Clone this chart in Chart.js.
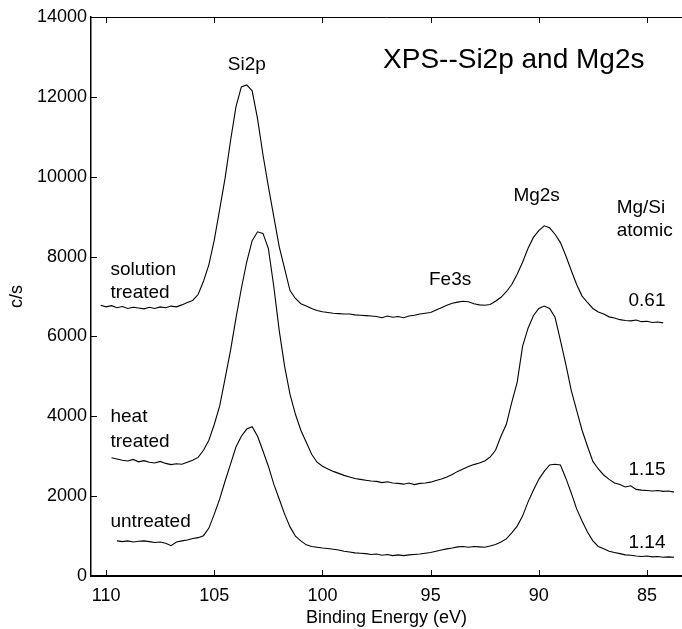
<!DOCTYPE html>
<html>
<head>
<meta charset="utf-8">
<title>XPS--Si2p and Mg2s</title>
<script src="https://cdn.jsdelivr.net/npm/chart.js@4/dist/chart.umd.min.js"></script>
<style>
    html, body { margin: 0; padding: 0; background: #fff; }
    #xpsChart { display: block; }
</style>
</head>
<body>
<canvas id="xpsChart" width="682" height="629"></canvas>
<script>
// binding energy grid (eV), high to low as recorded
const energies = [
    110.25, 110.0, 109.75, 109.5, 109.25, 109.0, 108.75, 108.5, 108.25, 108.0,
    107.75, 107.5, 107.25, 107.0, 106.75, 106.5, 106.25, 106.0, 105.75, 105.5,
    105.25, 105.0, 104.75, 104.5, 104.25, 104.0, 103.75, 103.5, 103.25, 103.0,
    102.75, 102.5, 102.25, 102.0, 101.75, 101.5, 101.25, 101.0, 100.75, 100.5,
    100.25, 100.0, 99.75, 99.5, 99.25, 99.0, 98.75, 98.5, 98.25, 98.0,
    97.75, 97.5, 97.25, 97.0, 96.75, 96.5, 96.25, 96.0, 95.75, 95.5,
    95.25, 95.0, 94.75, 94.5, 94.25, 94.0, 93.75, 93.5, 93.25, 93.0,
    92.75, 92.5, 92.25, 92.0, 91.75, 91.5, 91.25, 91.0, 90.75, 90.5,
    90.25, 90.0, 89.75, 89.5, 89.25, 89.0, 88.75, 88.5, 88.25, 88.0,
    87.75, 87.5, 87.25, 87.0, 86.75, 86.5, 86.25, 86.0, 85.75, 85.5,
    85.25, 85.0, 84.75, 84.5, 84.25, 84.0, 83.75
];

// counts per second
const solutionTreated = [
    6780, 6740, 6770, 6720, 6750, 6700, 6730, 6710, 6690, 6730,
    6700, 6740, 6720, 6760, 6740, 6790, 6850, 6900, 7050, 7380,
    7800, 8420, 9190, 9970, 10900, 11750, 12250, 12300, 12150, 11450,
    10550, 9750, 9000, 8250, 7700, 7150, 6950, 6820, 6760, 6700,
    6650, 6620, 6600, 6580, 6570, 6560, 6560, 6540, 6530, 6520,
    6510, 6500, 6470, 6510, 6480, 6500, 6470, 6510, 6530, 6560,
    6580, 6600, 6660, 6720, 6780, 6830, 6860, 6880, 6870, 6820,
    6790, 6780, 6800, 6880, 6980, 7120, 7300, 7560, 7860, 8200,
    8480, 8650, 8770, 8720, 8560, 8350, 8020, 7650, 7300, 7010,
    6850, 6700, 6610, 6560, 6490, 6460, 6420, 6400, 6390, 6410,
    6370, 6380, 6350, 6360, 6340, null, null
];

const heatTreated = [
    null, null, 2960, 2930, 2900, 2880, 2920, 2860, 2890, 2850,
    2830, 2870, 2820, 2790, 2810, 2800, 2850, 2900, 2970, 3150,
    3400, 3800, 4260, 4950, 5650, 6450, 7200, 7870, 8400, 8620,
    8580, 8200, 7250, 6150, 5250, 4550, 4050, 3650, 3350, 3050,
    2850, 2750, 2680, 2620, 2570, 2520, 2480, 2440, 2420, 2400,
    2380, 2370, 2340, 2360, 2330, 2320, 2300, 2330, 2290, 2320,
    2330, 2350, 2390, 2430, 2480, 2540, 2620, 2680, 2740, 2790,
    2830, 2880, 2980, 3150, 3500, 3800, 4350, 4850, 5750, 6200,
    6520, 6700, 6760, 6700, 6480, 5900, 5300, 4650, 4150, 3650,
    3250, 2870, 2680, 2530, 2420, 2330, 2290, 2230, 2260, 2170,
    2150, 2140, 2130, 2140, 2120, 2130, 2100
];

const untreated = [
    null, null, null, 880, 860, 880, 850, 870, 880, 860,
    840, 850, 820, 760, 850, 880, 900, 940, 960, 1010,
    1200, 1550, 1930, 2380, 2800, 3230, 3500, 3680, 3740, 3500,
    3130, 2750, 2300, 1930, 1550, 1230, 1000, 880, 780, 740,
    720, 700, 690, 670, 650, 620, 600, 580, 570, 560,
    540, 550, 520, 540, 510, 530, 510, 530, 540, 550,
    570, 590, 620, 650, 680, 700, 730, 740, 720, 740,
    730, 720, 750, 790, 850, 930, 1080, 1250, 1500, 1850,
    2150, 2420, 2620, 2780, 2800, 2780, 2450, 2080, 1680, 1380,
    1100, 880, 740, 680, 620, 590, 560, 530, 520, 500,
    490, 500, 480, 490, 470, 480, 470
];

const xTicks = [110, 105, 100, 95, 90, 85];
const yTicks = [0, 2000, 4000, 6000, 8000, 10000, 12000, 14000];

// text notes placed in data coordinates
const notes = [
    { text: 'XPS--Si2p and Mg2s', x: 97.2, y: 12910, align: 'left', size: 28 },
    { text: 'Si2p', x: 103.5, y: 12810, align: 'center' },
    { text: 'Mg2s', x: 90.1, y: 9530, align: 'center' },
    { text: 'Mg/Si', x: 86.4, y: 9230, align: 'left' },
    { text: 'atomic', x: 86.4, y: 8650, align: 'left' },
    { text: 'Fe3s', x: 94.1, y: 7420, align: 'center' },
    { text: '0.61', x: 85.0, y: 6890, align: 'center' },
    { text: 'solution', x: 109.8, y: 7670, align: 'left' },
    { text: 'treated', x: 109.8, y: 7090, align: 'left' },
    { text: 'heat', x: 109.8, y: 3990, align: 'left' },
    { text: 'treated', x: 109.8, y: 3360, align: 'left' },
    { text: 'untreated', x: 109.8, y: 1350, align: 'left' },
    { text: '1.15', x: 85.0, y: 2660, align: 'center' },
    { text: '1.14', x: 85.0, y: 830, align: 'center' }
];

const FONT = "'Liberation Sans', Arial, Helvetica, sans-serif";

function toPoints(values) {
    return energies
        .map((e, i) => ({ x: e, y: values[i] }))
        .filter(p => p.y !== null);
}

function spectrum(label, values) {
    return {
        label: label,
        data: toPoints(values),
        borderColor: '#000',
        borderWidth: 1.1,
        pointRadius: 0,
        tension: 0,
        fill: false
    };
}

// frame top line, inward tick marks and text notes
const frameAndNotes = {
    id: 'frameAndNotes',
    afterDraw(chart) {
        const { ctx, chartArea: area, scales: { x, y } } = chart;
        ctx.save();
        ctx.strokeStyle = '#000';
        ctx.lineWidth = 1;
        ctx.beginPath();
        ctx.moveTo(area.left, area.top + 0.5);
        ctx.lineTo(area.right, area.top + 0.5);
        xTicks.forEach(v => {
            const px = Math.round(x.getPixelForValue(v)) + 0.5;
            ctx.moveTo(px, area.bottom);
            ctx.lineTo(px, area.bottom - 6);
            ctx.moveTo(px, area.top);
            ctx.lineTo(px, area.top + 6);
        });
        yTicks.forEach(v => {
            const py = Math.round(y.getPixelForValue(v)) + 0.5;
            ctx.moveTo(area.left, py);
            ctx.lineTo(area.left + 6, py);
        });
        ctx.stroke();

        ctx.fillStyle = '#000';
        ctx.textBaseline = 'middle';
        notes.forEach(n => {
            ctx.font = (n.size || 19) + 'px ' + FONT;
            ctx.textAlign = n.align;
            ctx.fillText(n.text, x.getPixelForValue(n.x), y.getPixelForValue(n.y));
        });
        ctx.restore();
    }
};

document.addEventListener('DOMContentLoaded', () => {
    Chart.defaults.font.family = FONT;
    Chart.defaults.color = '#000';

    const ctx = document.getElementById('xpsChart');
    new Chart(ctx, {
        type: 'line',
        data: {
            datasets: [
                spectrum('solution treated', solutionTreated),
                spectrum('heat treated', heatTreated),
                spectrum('untreated', untreated)
            ]
        },
        options: {
            responsive: false,
            animation: false,
            devicePixelRatio: 1,
            layout: { padding: { top: 17, right: 0, left: 0, bottom: 0 } },
            plugins: {
                legend: { display: false },
                tooltip: { enabled: false }
            },
            scales: {
                x: {
                    type: 'linear',
                    reverse: true,
                    min: 83.38,
                    max: 110.7,
                    afterBuildTicks: scale => {
                        scale.ticks = xTicks.map(v => ({ value: v }));
                    },
                    afterFit: scale => { scale.height = 53; },
                    grid: { display: true, drawOnChartArea: false, drawTicks: false },
                    border: { display: true, color: '#000', width: 2 },
                    ticks: {
                        font: { size: 18 },
                        padding: 9,
                        maxRotation: 0,
                        callback: v => String(v)
                    },
                    title: {
                        display: true,
                        text: 'Binding Energy (eV)',
                        font: { size: 18 },
                        padding: { top: 0, bottom: 0 }
                    }
                },
                y: {
                    min: 0,
                    max: 14000,
                    afterBuildTicks: scale => {
                        scale.ticks = yTicks.map(v => ({ value: v }));
                    },
                    afterFit: scale => { scale.width = 91; },
                    grid: { display: true, drawOnChartArea: false, drawTicks: false },
                    border: { display: true, color: '#000', width: 1.5 },
                    ticks: {
                        font: { size: 18 },
                        padding: 4,
                        callback: v => String(v)
                    },
                    title: {
                        display: true,
                        text: 'c/s',
                        font: { size: 18 },
                        padding: { top: 6, bottom: 0 }
                    }
                }
            }
        },
        plugins: [frameAndNotes]
    });
});
</script>
</body>
</html>
